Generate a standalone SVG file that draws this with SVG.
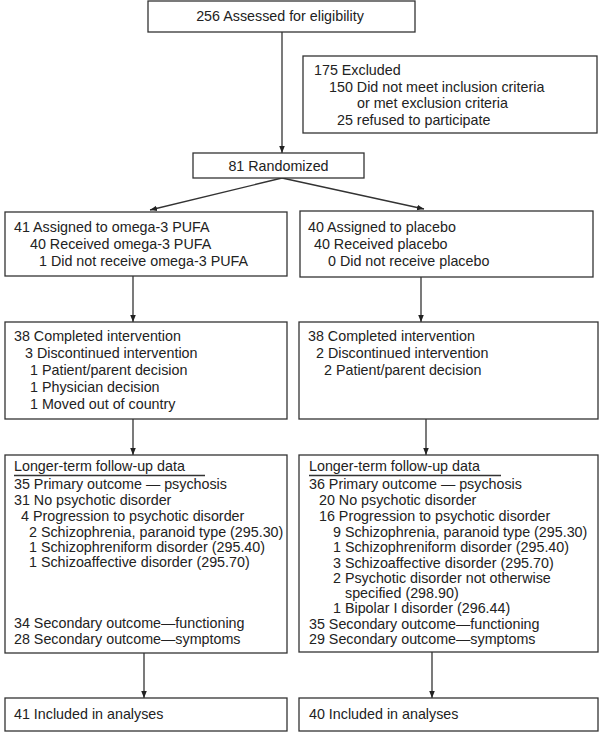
<svg xmlns="http://www.w3.org/2000/svg" width="600" height="732" viewBox="0 0 600 732">
<defs>
<marker id="ah" viewBox="0 0 10 10" refX="10" refY="5" markerWidth="7" markerHeight="7" markerUnits="userSpaceOnUse" orient="auto">
<path d="M0,1 L10,5 L0,9 Z" fill="#222"/>
</marker>
</defs>
<style>
rect{fill:#fff;stroke:#333;stroke-width:1.3}
text{font-family:"Liberation Sans",Arial,sans-serif;font-size:14.3px;fill:#222}
.c{text-anchor:middle}
.ln{stroke:#333;stroke-width:1.3;fill:none}
</style>
<rect x="0" y="0" width="600" height="732" style="fill:#fff;stroke:none"/>
<g id="connectors">
<line class="ln" x1="282" y1="32" x2="282" y2="153" marker-end="url(#ah)"/>
<line class="ln" x1="282" y1="178" x2="150" y2="210" marker-end="url(#ah)"/>
<line class="ln" x1="282" y1="178" x2="424" y2="209" marker-end="url(#ah)"/>
<line class="ln" x1="133" y1="276" x2="133" y2="322" marker-end="url(#ah)"/>
<line class="ln" x1="421" y1="277" x2="421" y2="322" marker-end="url(#ah)"/>
<line class="ln" x1="133" y1="419" x2="133" y2="455" marker-end="url(#ah)"/>
<line class="ln" x1="426" y1="419" x2="426" y2="455" marker-end="url(#ah)"/>
<line class="ln" x1="144" y1="653" x2="144" y2="698" marker-end="url(#ah)"/>
<line class="ln" x1="432" y1="652" x2="432" y2="698" marker-end="url(#ah)"/>
</g>
<g id="assessed">
<rect x="148" y="1" width="267" height="31"/>
<text class="c" x="280" y="21">256 Assessed for eligibility</text>
</g>
<g id="excluded">
<rect x="303" y="56" width="294" height="77"/>
<text x="314" y="75">175 Excluded</text>
<text x="329" y="92">150 Did not meet inclusion criteria</text>
<text x="357" y="108">or met exclusion criteria</text>
<text x="337" y="125">25 refused to participate</text>
</g>
<g id="randomized">
<rect x="193" y="153" width="171" height="25"/>
<text class="c" x="278.5" y="171">81 Randomized</text>
</g>
<g id="assigned-omega">
<rect x="5" y="212" width="282" height="64"/>
<text x="14" y="232">41 Assigned to omega-3 PUFA</text>
<text x="30" y="249">40 Received omega-3 PUFA</text>
<text x="39" y="266">1 Did not receive omega-3 PUFA</text>
</g>
<g id="assigned-placebo">
<rect x="300" y="211" width="293" height="66"/>
<text x="308" y="232">40 Assigned to placebo</text>
<text x="314" y="249">40 Received placebo</text>
<text x="328" y="266">0 Did not receive placebo</text>
</g>
<g id="completed-omega">
<rect x="5" y="322" width="282" height="97"/>
<text x="14" y="341">38 Completed intervention</text>
<text x="25" y="358">3 Discontinued intervention</text>
<text x="30" y="375">1 Patient/parent decision</text>
<text x="30" y="392">1 Physician decision</text>
<text x="30" y="409">1 Moved out of country</text>
</g>
<g id="completed-placebo">
<rect x="299" y="322" width="299" height="97"/>
<text x="308" y="341">38 Completed intervention</text>
<text x="316" y="358">2 Discontinued intervention</text>
<text x="324" y="375">2 Patient/parent decision</text>
</g>
<g id="followup-omega">
<rect x="5" y="455" width="282" height="198"/>
<text x="14" y="471">Longer-term follow-up data</text>
<line class="ln" x1="14" y1="475.5" x2="205" y2="475.5"/>
<text x="14" y="489">35 Primary outcome — psychosis</text>
<text x="14" y="505">31 No psychotic disorder</text>
<text x="21" y="521">4 Progression to psychotic disorder</text>
<text x="29" y="537">2 Schizophrenia, paranoid type (295.30)</text>
<text x="29" y="552">1 Schizophreniform disorder (295.40)</text>
<text x="29" y="567">1 Schizoaffective disorder (295.70)</text>
<text x="14" y="628">34 Secondary outcome—functioning</text>
<text x="14" y="644">28 Secondary outcome—symptoms</text>
</g>
<g id="followup-placebo">
<rect x="299" y="455" width="299" height="197"/>
<text x="309" y="471">Longer-term follow-up data</text>
<line class="ln" x1="309" y1="475.5" x2="501" y2="475.5"/>
<text x="309" y="489">36 Primary outcome — psychosis</text>
<text x="319" y="505">20 No psychotic disorder</text>
<text x="319" y="521">16 Progression to psychotic disorder</text>
<text x="333" y="537">9 Schizophrenia, paranoid type (295.30)</text>
<text x="333" y="552">1 Schizophreniform disorder (295.40)</text>
<text x="333" y="567.5">3 Schizoaffective disorder (295.70)</text>
<text x="333" y="583">2 Psychotic disorder not otherwise</text>
<text x="345" y="597.5">specified (298.90)</text>
<text x="333" y="613">1 Bipolar I disorder (296.44)</text>
<text x="309" y="628.5">35 Secondary outcome—functioning</text>
<text x="309" y="644">29 Secondary outcome—symptoms</text>
</g>
<g id="included-omega">
<rect x="5" y="698" width="282" height="33"/>
<text x="14" y="719">41 Included in analyses</text>
</g>
<g id="included-placebo">
<rect x="299" y="698" width="299" height="33"/>
<text x="309" y="719">40 Included in analyses</text>
</g>
</svg>
